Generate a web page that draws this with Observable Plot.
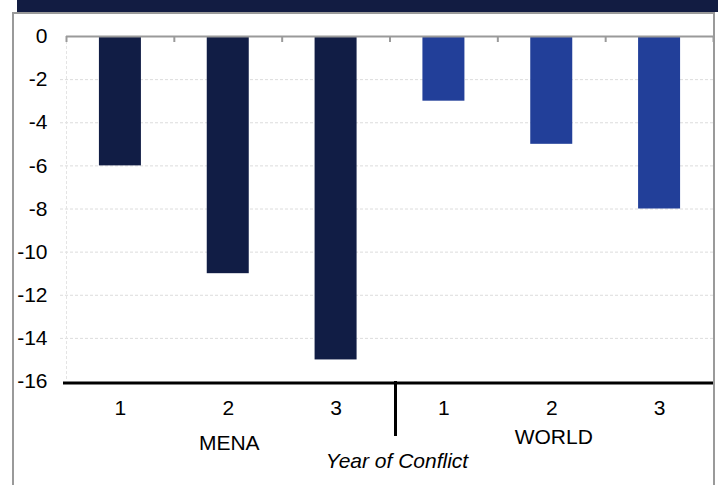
<!DOCTYPE html>
<html>
<head>
<meta charset="utf-8">
<script src="https://cdn.jsdelivr.net/npm/d3@7"></script>
<script src="https://cdn.jsdelivr.net/npm/@observablehq/plot@0.6"></script>
<style>
  html, body { margin: 0; padding: 0; background: #fff; }
  #wrap { position: relative; width: 718px; height: 485px; overflow: hidden; background: #fff; }
  #chart { position: absolute; left: 0; top: 0; }
  .band { position: absolute; left: 17px; top: 0; width: 701px; height: 12px; background: #121c42; z-index: 2; }
  .box { position: absolute; left: 12px; top: 12px; width: 699px; height: 500px;
         border: 2px solid #9a9a9a; border-bottom: none; z-index: 2; pointer-events: none; }
</style>
</head>
<body>
<div id="wrap">
  <div id="chart"></div>
  <div class="band"></div>
  <div class="box"></div>
</div>
<script>
// Change vs. pre-conflict level, by year of conflict
const regions = ["MENA", "WORLD"];
const years = ["1", "2", "3"];
const menaValues = [-6, -11, -15];
const worldValues = [-3, -5, -8];
const yTicks = [0, -2, -4, -6, -8, -10, -12, -14, -16];
const regionColors = ["#111d45", "#223f99"];
const axisTitle = "Year of Conflict";

const valuesByRegion = {MENA: menaValues, WORLD: worldValues};
const rows = regions.flatMap(region =>
  years.map((year, i) => ({key: `${region} ${year}`, region, year, value: valuesByRegion[region][i]}))
);
const keys = rows.map(d => d.key);
const yearOf = new Map(rows.map(d => [d.key, d.year]));
// group label sits under the middle year of each region
const groupLabels = regions.map(region => ({region, key: `${region} ${years[1]}`}));

const W = 718, H = 485;
const mLeft = 66, mRight = 5, mTop = 36, mBottom = 104;
const step = (W - mLeft - mRight) / keys.length;
const barWidth = 42;
const inset = (step - barWidth) / 2;
const font = "'Liberation Sans', Arial, sans-serif";

const chart = Plot.plot({
  width: W,
  height: H,
  marginLeft: mLeft,
  marginRight: mRight,
  marginTop: mTop,
  marginBottom: mBottom,
  style: {fontFamily: font, fontSize: "21px", color: "#000", background: "transparent", overflow: "visible"},
  x: {type: "band", domain: keys, padding: 0, round: false},
  y: {domain: [-16, 0]},
  color: {domain: regions, range: regionColors},
  marks: [
    // horizontal gridlines
    Plot.ruleY(yTicks.filter(v => v < 0 && v > -16), {stroke: "#dcdcdc", strokeDasharray: "3,2", insetLeft: -6}),
    // faint left edge of the plot area
    Plot.ruleX([keys[0]], {dx: -step / 2, stroke: "#e4e4e4", strokeDasharray: "3,2"}),
    Plot.barY(rows, {x: "key", y: "value", fill: "region", insetLeft: inset, insetRight: inset}),
    // zero line with category boundary ticks
    Plot.ruleY([0], {stroke: "#9a9a9a", strokeWidth: 2}),
    Plot.ruleX(keys, {dx: -step / 2, y1: 0, y2: 0, insetBottom: -6, stroke: "#9a9a9a", strokeWidth: 2}),
    Plot.ruleX([keys[keys.length - 1]], {dx: step / 2, y1: 0, y2: 0, insetBottom: -6, stroke: "#9a9a9a", strokeWidth: 2}),
    // heavy baseline and region divider
    Plot.ruleY([-16], {stroke: "#000", strokeWidth: 3, insetLeft: -3, dy: 1.5}),
    Plot.ruleX([`${regions[1]} ${years[0]}`], {dx: -step / 2 + 5.5, y1: -16, y2: -16, insetBottom: -55, stroke: "#000", strokeWidth: 3}),
    Plot.axisY({ticks: yTicks, tickSize: 0, tickPadding: 19, tickFormat: d => String(d), label: null}),
    Plot.axisX({tickSize: 0, tickPadding: 18.3, tickFormat: k => yearOf.get(k), label: null}),
    // region labels
    Plot.text(groupLabels.filter(d => d.region === "MENA"), {x: "key", y: () => -16, text: "region", dy: 62, dx: 1, fontSize: 21, lineAnchor: "middle"}),
    Plot.text(groupLabels.filter(d => d.region === "WORLD"), {x: "key", y: () => -16, text: "region", dy: 56, dx: 2, fontSize: 21, lineAnchor: "middle"}),
    Plot.text([axisTitle], {frameAnchor: "bottom", text: d => d, dx: 7, dy: 80, fontSize: 21, fontStyle: "italic", lineAnchor: "middle"})
  ]
});

document.getElementById("chart").appendChild(chart);
</script>
</body>
</html>
